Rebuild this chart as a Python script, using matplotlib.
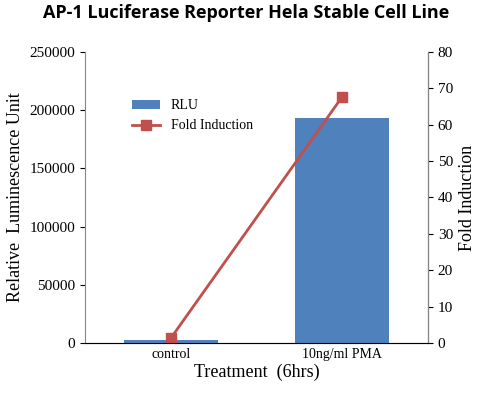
import matplotlib
matplotlib.use("Agg")
import matplotlib.pyplot as plt

categories = ["control", "10ng/ml PMA"]
rlu = [3000, 193000]
fold = [1.3, 67.7]

plt.rcParams['font.family'] = ['Liberation Serif']

fig = plt.figure(figsize=(4.92, 4.05), dpi=100)
ax = fig.add_axes([85/492, 1-343/405, (428-85)/492, (343-52)/405])
x = [0, 1]
ax.bar(x, rlu, width=0.55, color="#4f81bd", label="RLU")
ax.set_xlim(-0.5, 1.5)
ax.set_ylim(0, 250000)
ax.set_yticks(range(0, 250001, 50000))
ax.set_xticks(x)
ax.set_xticklabels(categories, fontsize=10)
ax.tick_params(axis='y', labelsize=11)
ax.set_ylabel("Relative  Luminescence Unit", fontsize=13)
ax.set_xlabel("Treatment  (6hrs)", fontsize=13, labelpad=2)
ax.spines["top"].set_visible(False)
for s in ["left", "bottom"]:
    ax.spines[s].set_color("#868686")
ax.tick_params(axis='x', length=0)

ax2 = ax.twinx()
ax2.plot(x, fold, color="#c0504d", marker="s", markersize=7, linewidth=2, label="Fold Induction")
ax2.set_ylim(0, 80)
ax2.set_yticks(range(0, 81, 10))
ax2.tick_params(axis='y', labelsize=11)
ax2.set_ylabel("Fold Induction", fontsize=13)
ax2.spines["top"].set_visible(False)
ax2.spines["right"].set_color("#868686")
ax2.spines["left"].set_visible(False)

h1, l1 = ax.get_legend_handles_labels()
h2, l2 = ax2.get_legend_handles_labels()
ax2.legend(h1 + h2, l1 + l2, loc="upper left", bbox_to_anchor=(0.1, 0.88), frameon=False, fontsize=10)

fig.text(0.5, 0.955, "AP-1 Luciferase Reporter Hela Stable Cell Line", ha="center",
         fontsize=13, fontweight="bold", family="Open Sans")
fig.savefig("out.png")
